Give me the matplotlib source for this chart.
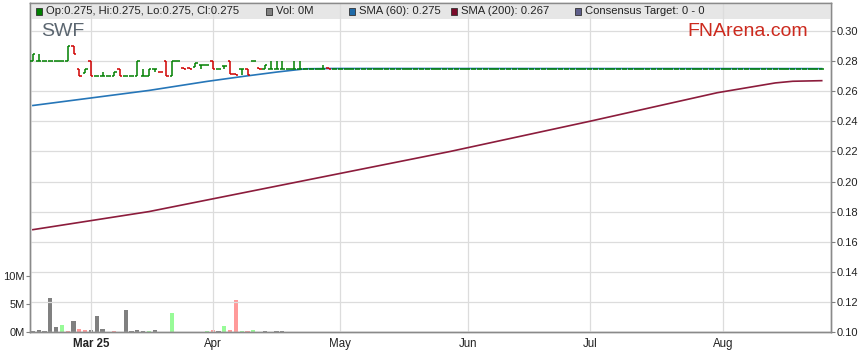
# -*- coding: utf-8 -*-

# SWF price chart, FNArena style

import matplotlib
matplotlib.use('Agg')
import matplotlib.pyplot as plt
from matplotlib.patches import Rectangle
import pandas as pd

plt.rcParams['font.family'] = ['Liberation Sans', 'DejaVu Sans']

dates = pd.bdate_range('2025-02-17', '2025-08-28')

# daily bars, Feb 17 .. Apr 29
op = [0.280, 0.280, 0.280, 0.280, 0.280, 0.280, 0.280, 0.290, 0.275, 0.272,
      0.280, 0.270, 0.270, 0.270, 0.270, 0.275, 0.270, 0.270, 0.270, 0.270,
      0.270, 0.275, 0.273, 0.280, 0.270, 0.280, 0.2755, 0.2755, 0.276, 0.2775,
      0.2775, 0.280, 0.275, 0.2765, 0.280, 0.2715, 0.275, 0.275, 0.280, 0.2755,
      0.275, 0.275, 0.275, 0.275, 0.275, 0.275, 0.275, 0.275, 0.275, 0.275,
      0.275, 0.2755]
hi = [0.285, 0.285, 0.280, 0.280, 0.280, 0.280, 0.290, 0.290, 0.275, 0.275,
      0.280, 0.270, 0.2725, 0.270, 0.2725, 0.275, 0.270, 0.270, 0.280, 0.275,
      0.275, 0.275, 0.273, 0.280, 0.280, 0.280, 0.2755, 0.2755, 0.2785, 0.2775,
      0.2775, 0.280, 0.275, 0.2765, 0.280, 0.2715, 0.275, 0.275, 0.280, 0.2755,
      0.2775, 0.280, 0.280, 0.280, 0.275, 0.280, 0.280, 0.275, 0.275, 0.275,
      0.2775, 0.2755]
lo = [0.280, 0.280, 0.280, 0.280, 0.280, 0.280, 0.280, 0.285, 0.270, 0.272,
      0.270, 0.270, 0.270, 0.270, 0.270, 0.270, 0.270, 0.270, 0.270, 0.270,
      0.270, 0.2725, 0.2725, 0.270, 0.270, 0.280, 0.275, 0.275, 0.276, 0.275,
      0.2775, 0.275, 0.275, 0.275, 0.2715, 0.2705, 0.271, 0.271, 0.280, 0.275,
      0.275, 0.275, 0.275, 0.275, 0.275, 0.275, 0.275, 0.275, 0.275, 0.275,
      0.275, 0.275]
cl = [0.285, 0.280, 0.280, 0.280, 0.280, 0.280, 0.290, 0.285, 0.270, 0.275,
      0.270, 0.270, 0.270, 0.270, 0.2725, 0.270, 0.270, 0.270, 0.280, 0.270,
      0.275, 0.275, 0.2725, 0.270, 0.280, 0.280, 0.275, 0.275, 0.2785, 0.2775,
      0.2775, 0.275, 0.275, 0.2765, 0.2715, 0.2705, 0.275, 0.271, 0.280, 0.275,
      0.2775, 0.275, 0.275, 0.275, 0.275, 0.275, 0.275, 0.275, 0.275, 0.275,
      0.275, 0.275]

# no trades after Apr 29: price held at last close up to Aug 26
flat_px = 0.275
flat_days = 85

# volume in millions and its colour (n = unchanged, u = up, d = down)
vol = [0.1, 0.35, 0.24, 6.0, 0.9, 1.24, 0.18, 1.94, 0.53, 0.35,
       0.35, 2.82, 0.53, 0, 0.24, 0, 3.9, 0.24, 0.35, 0.24,
       0.24, 0.35, 0, 0, 3.4, 0, 0, 0, 0, 0,
       0.18, 0.35, 0.24, 1.06, 0.35, 5.8, 0.18, 0.18, 0.35, 0,
       0.18, 0, 0.18, 0.18, 0, 0, 0, 0, 0, 0,
       0, 0]
vol_dir = 'nnnnnudndd' + 'nnndddnnnn' + 'unnnunnnnn' + 'udnuddudun' + 'nnnnnnnnnn' + 'nn'

# moving averages, read at a few days (day index, value)
sma60_day = [0, 10, 20, 30, 36, 42, 47, 52, 136]
sma60_val = [0.2505, 0.2555, 0.2605, 0.2665, 0.2697, 0.2727, 0.2749, 0.2751, 0.275]
sma200_day = [0, 20, 46, 72, 96, 118, 128, 131, 136]
sma200_val = [0.168, 0.180, 0.200, 0.220, 0.240, 0.259, 0.2655, 0.2666, 0.267]

vol_colours = {'n': '#808080', 'u': '#98fb98', 'd': '#ff9a9a'}

fig = plt.figure(figsize=(8.59, 3.63), dpi=100)
ax = fig.add_axes([30/859, 1 - 332/363, 801/859, 329/363])
axv = ax.twinx()

# header strip
ax.add_patch(Rectangle((0, 1 - 16/329), 1, 16/329, transform=ax.transAxes,
                       facecolor='#e6e6e6', edgecolor='none', zorder=0.1))

# volume bars
for i in range(len(vol)):
    if vol[i] > 0:
        axv.bar(i, vol[i] * 1e6, width=0.7, color=vol_colours[vol_dir[i]], linewidth=0)

# OHLC bars
o_all = op + [flat_px] * flat_days
h_all = hi + [flat_px] * flat_days
l_all = lo + [flat_px] * flat_days
c_all = cl + [flat_px] * flat_days
for i in range(len(c_all)):
    col = '#008000' if c_all[i] >= o_all[i] else '#d00000'
    ax.plot([i, i], [l_all[i], h_all[i]], color=col, lw=1.1, solid_capstyle='butt', zorder=4)
    ax.plot([i - 0.42, i], [o_all[i], o_all[i]], color=col, lw=1.1, solid_capstyle='butt', zorder=4)
    ax.plot([i, i + 0.42], [c_all[i], c_all[i]], color=col, lw=1.1, solid_capstyle='butt', zorder=4)

ax.plot(sma60_day, sma60_val, color='#2676b8', lw=1.2, zorder=3)
ax.plot(sma200_day, sma200_val, color='#8c1c3c', lw=1.2, zorder=3)

ax.set_zorder(axv.get_zorder() + 1)
ax.patch.set_visible(False)

# axes
ax.set_xlim(-0.5, 137.6)
ax.set_ylim(0.10, 0.10 + 329/1505)
axv.set_ylim(0, 329/28 * 5e6)

ax.yaxis.tick_right()
ax.set_yticks([0.10, 0.12, 0.14, 0.16, 0.18, 0.20, 0.22, 0.24, 0.26, 0.28, 0.30])
ax.set_yticklabels(['%.2f' % v for v in ax.get_yticks()])
axv.yaxis.tick_left()
axv.set_yticks([0, 5e6, 10e6])
axv.set_yticklabels(['0M', '5M', '10M'])

first_days = []
labels = []
for k, m in enumerate(['2025-03', '2025-04', '2025-05', '2025-06', '2025-07', '2025-08']):
    idx = [j for j, d in enumerate(dates) if d.strftime('%Y-%m') == m][0]
    first_days.append(idx)
    labels.append(dates[idx].strftime('%b %y') if k == 0 else dates[idx].strftime('%b'))
ax.set_xticks(first_days)
ax.set_xticklabels(labels)
ax.get_xticklabels()[0].set_fontweight('bold')

ax.grid(True, color='#dcdcdc', lw=0.9)
ax.set_axisbelow(True)
ax.tick_params(axis='y', length=3, color='#808080', labelsize=8, labelcolor='#222222', pad=1)
ax.tick_params(axis='x', length=0, labelsize=8.3, labelcolor='#222222', pad=4)
axv.tick_params(axis='y', length=3, color='#808080', labelsize=8, labelcolor='#222222', pad=1)
for a in (ax, axv):
    for s in a.spines.values():
        s.set_color('#8a8a8a')
        s.set_linewidth(1.0)

# legend in the header strip
legend = [(36, '#008000', 'Op:0.275, Hi:0.275, Lo:0.275, Cl:0.275'),
          (266, '#808080', 'Vol: 0M'),
          (349, '#1f6aa8', 'SMA (60): 0.275'),
          (451, '#7a0a2a', 'SMA (200): 0.267'),
          (575, '#5e5e8a', 'Consensus Target: 0 - 0')]
for x, c, t in legend:
    fig.patches.append(Rectangle((x/859, 1 - 14.5/363), 6/859, 6/363, transform=fig.transFigure,
                                 facecolor=c, edgecolor='#333333', lw=0.6, zorder=5))
    fig.text((x + 10)/859, 1 - 11.5/363, t, fontsize=8.1, color='#222222', va='center', zorder=6)

fig.text(41/859, 1 - 31/363, 'SWF', fontsize=14, color='#5b6670', va='center')
fig.text(808/859, 1 - 32/363, 'FNArena.com', fontsize=14, color='#cc2a1e', va='center', ha='right')

fig.savefig('out.png', dpi=100)
